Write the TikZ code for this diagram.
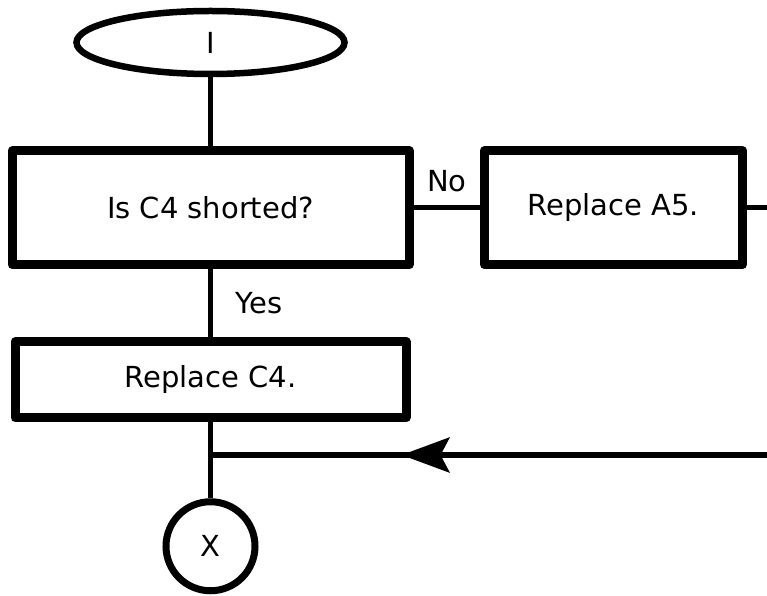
\documentclass[tikz,border=0pt]{standalone}
\usepackage{fontspec}
\setmainfont{DejaVu Sans}
\usetikzlibrary{positioning,arrows.meta,shapes.geometric}

\begin{document}
\begin{tikzpicture}[
    every node/.style={font=\fontsize{16.5}{19}\selectfont},
    eblk/.style={ellipse, draw, line width=1.3mm, inner sep=0pt,
                 minimum width=53.6mm, minimum height=12.6mm},
    pblk/.style={rectangle, draw, line width=1.8mm, line join=round,
                 inner sep=0pt, align=center},
    cblk/.style={circle, draw, line width=1.4mm, inner sep=0pt,
                 minimum size=17.8mm},
    ln/.style={line width=1.1mm},
    arr/.style={ln, -{Stealth[length=9.6mm, width=7mm, inset=1.8mm]}},
    lbl/.style={inner sep=0pt, outer sep=0pt},
]
    \useasboundingbox (0,0) rectangle (153.4mm,-119mm);
    \node[eblk] (ent) at (42.1mm,-8.5mm) {I};
    \node[pblk, minimum width=79.4mm, minimum height=22.8mm,
          below=13.8mm of ent] (qc4) {Is C4 shorted?};
    \node[pblk, minimum width=51.6mm, minimum height=22.8mm,
          right=13.3mm of qc4] (ra5) {Replace A5.};
    \node[pblk, minimum width=78.2mm, minimum height=15.2mm,
          below=13.6mm of qc4] (rc4) {Replace C4.};
    \node[cblk, below=15.2mm of rc4] (ex) {X};
    %% loose ends at the right edge
    \coordinate (rin) at (153.4mm,-91mm);
    \coordinate (rout) at (ra5 -| rin);
    \coordinate (jn) at (rc4 |- rin);
    \coordinate (atip) at ([xshift=38.2mm]jn);
    \draw[ln] (ent) -- (qc4);
    \draw[ln] (qc4) -- node[lbl, above=3.1mm]{No} (ra5);
    \draw[ln] (ra5) -- (rout);
    \draw[ln] (qc4) -- node[lbl, right=5mm]{Yes} (rc4);
    \draw[ln] (rc4) -- (ex);
    %% return path enters from the right
    \draw[ln] (rin) -- (jn);
    \draw[arr] (rin) -- (atip);
\end{tikzpicture}
\end{document}
